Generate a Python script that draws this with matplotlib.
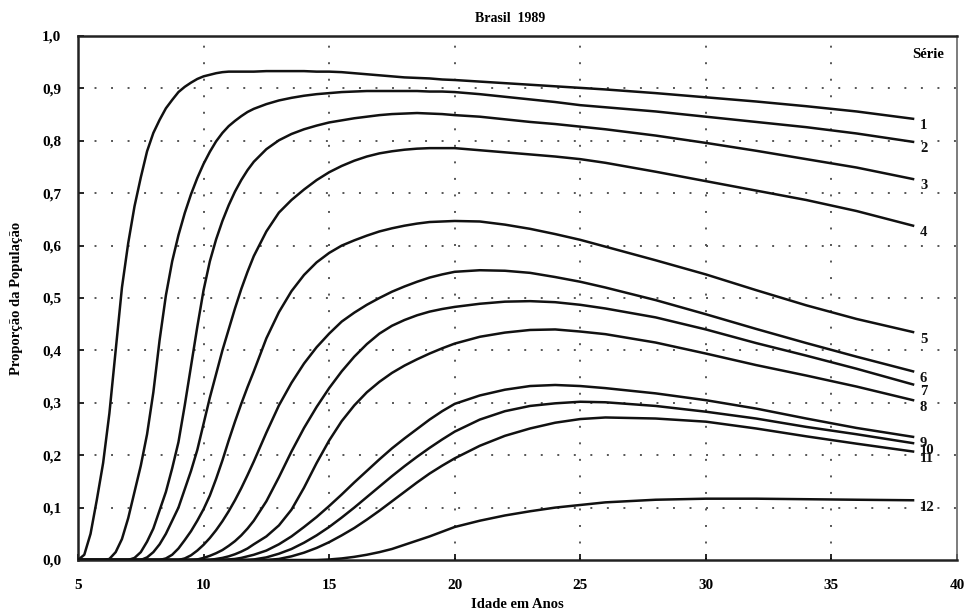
import numpy as np
import matplotlib
matplotlib.use("Agg")
import matplotlib.pyplot as plt
from matplotlib.ticker import FixedLocator, FuncFormatter

# Idade (anos) - grade comum a todas as series
idade = [5, 5.25, 5.5, 5.75, 6, 6.25, 6.5, 6.75, 7, 7.25, 7.5, 7.75, 8, 8.25, 8.5, 8.75,
         9, 9.25, 9.5, 9.75, 10, 10.25, 10.5, 10.75, 11, 11.25, 11.5, 11.75, 12,
         12.5, 13, 13.5, 14, 14.5, 15, 15.5, 16, 16.5, 17, 17.5, 18, 18.5, 19, 19.5, 20,
         21, 22, 23, 24, 25, 26, 28, 30, 32, 34, 36, 38.25]

# Proporcao da populacao por serie
serie1 = [0, 0.01, 0.05, 0.115, 0.185, 0.28, 0.40, 0.52, 0.605, 0.675, 0.73, 0.78, 0.815, 0.84, 0.862, 0.878,
          0.893, 0.903, 0.911, 0.918, 0.923, 0.926, 0.929, 0.931, 0.932, 0.932, 0.932, 0.932, 0.932,
          0.933, 0.933, 0.933, 0.933, 0.932, 0.932, 0.931, 0.929, 0.927, 0.925, 0.923, 0.921, 0.920, 0.919, 0.917, 0.916,
          0.913, 0.910, 0.907, 0.904, 0.901, 0.898, 0.891, 0.883, 0.875, 0.866, 0.856, 0.842]
serie2 = [0, 0, 0, 0, 0, 0.002, 0.015, 0.04, 0.08, 0.13, 0.18, 0.24, 0.32, 0.42, 0.505, 0.57,
          0.62, 0.662, 0.698, 0.729, 0.756, 0.779, 0.799, 0.815, 0.828, 0.838, 0.847, 0.855, 0.861,
          0.870, 0.877, 0.882, 0.886, 0.889, 0.891, 0.893, 0.894, 0.895, 0.895, 0.895, 0.895, 0.895, 0.894, 0.894, 0.893,
          0.889, 0.884, 0.879, 0.874, 0.868, 0.864, 0.856, 0.846, 0.836, 0.826, 0.814, 0.798]
serie3 = [0, 0, 0, 0, 0, 0, 0, 0, 0, 0.004, 0.015, 0.035, 0.06, 0.095, 0.13, 0.175,
          0.225, 0.295, 0.37, 0.445, 0.515, 0.57, 0.612, 0.647, 0.677, 0.703, 0.725, 0.744, 0.760,
          0.784, 0.801, 0.813, 0.822, 0.829, 0.835, 0.839, 0.843, 0.846, 0.849, 0.851, 0.852, 0.853, 0.852, 0.851, 0.849,
          0.846, 0.841, 0.836, 0.832, 0.827, 0.822, 0.810, 0.796, 0.781, 0.765, 0.749, 0.727]
serie4 = [0, 0, 0, 0, 0, 0, 0, 0, 0, 0, 0, 0.005, 0.015, 0.03, 0.05, 0.075,
          0.10, 0.135, 0.17, 0.21, 0.26, 0.31, 0.355, 0.40, 0.44, 0.48, 0.517, 0.55, 0.58,
          0.627, 0.663, 0.687, 0.707, 0.725, 0.740, 0.752, 0.762, 0.770, 0.776, 0.780, 0.783, 0.785, 0.786, 0.786, 0.786,
          0.782, 0.778, 0.774, 0.770, 0.765, 0.758, 0.741, 0.723, 0.705, 0.687, 0.666, 0.638]
serie5 = [0, 0, 0, 0, 0, 0, 0, 0, 0, 0, 0, 0, 0, 0, 0.003, 0.01,
          0.022, 0.038, 0.055, 0.075, 0.097, 0.123, 0.155, 0.19, 0.228, 0.264, 0.298, 0.33, 0.36,
          0.423, 0.473, 0.513, 0.544, 0.568, 0.586, 0.600, 0.610, 0.619, 0.627, 0.633, 0.638, 0.642, 0.645, 0.646, 0.647,
          0.646, 0.640, 0.632, 0.622, 0.611, 0.598, 0.572, 0.545, 0.515, 0.486, 0.460, 0.435]
serie6 = [0, 0, 0, 0, 0, 0, 0, 0, 0, 0, 0, 0, 0, 0, 0, 0,
          0, 0.003, 0.009, 0.018, 0.029, 0.042, 0.057, 0.074, 0.093, 0.114, 0.137, 0.162, 0.188,
          0.243, 0.295, 0.338, 0.375, 0.406, 0.432, 0.455, 0.472, 0.487, 0.500, 0.512, 0.522, 0.531, 0.539, 0.545, 0.550,
          0.553, 0.552, 0.548, 0.540, 0.531, 0.520, 0.496, 0.469, 0.441, 0.414, 0.388, 0.360]
serie7 = [0, 0, 0, 0, 0, 0, 0, 0, 0, 0, 0, 0, 0, 0, 0, 0,
          0, 0, 0, 0.001, 0.004, 0.008, 0.013, 0.019, 0.027, 0.036, 0.047, 0.060, 0.075,
          0.112, 0.158, 0.207, 0.252, 0.292, 0.328, 0.360, 0.388, 0.412, 0.432, 0.447, 0.458, 0.467, 0.474, 0.479, 0.483,
          0.489, 0.493, 0.494, 0.492, 0.487, 0.480, 0.463, 0.440, 0.414, 0.390, 0.365, 0.335]
serie8 = [0, 0, 0, 0, 0, 0, 0, 0, 0, 0, 0, 0, 0, 0, 0, 0,
          0, 0, 0, 0, 0, 0, 0.002, 0.004, 0.007, 0.011, 0.016, 0.022, 0.030,
          0.045, 0.066, 0.096, 0.138, 0.185, 0.228, 0.265, 0.295, 0.320, 0.340, 0.357, 0.371, 0.383, 0.394, 0.404, 0.413,
          0.426, 0.434, 0.439, 0.440, 0.436, 0.431, 0.415, 0.394, 0.372, 0.352, 0.331, 0.305]
serie9 = [0, 0, 0, 0, 0, 0, 0, 0, 0, 0, 0, 0, 0, 0, 0, 0,
          0, 0, 0, 0, 0, 0, 0, 0, 0.001, 0.002, 0.004, 0.007, 0.010,
          0.018, 0.030, 0.045, 0.063, 0.082, 0.103, 0.125, 0.148, 0.170, 0.192, 0.213, 0.232, 0.250, 0.268, 0.284, 0.298,
          0.314, 0.325, 0.332, 0.334, 0.332, 0.328, 0.318, 0.305, 0.289, 0.270, 0.252, 0.235]
serie10 = [0, 0, 0, 0, 0, 0, 0, 0, 0, 0, 0, 0, 0, 0, 0, 0,
           0, 0, 0, 0, 0, 0, 0, 0, 0, 0, 0, 0, 0.001,
           0.005, 0.012, 0.021, 0.033, 0.047, 0.063, 0.081, 0.100, 0.120, 0.140, 0.160, 0.179, 0.197, 0.214, 0.230, 0.245,
           0.268, 0.284, 0.294, 0.299, 0.302, 0.301, 0.294, 0.283, 0.270, 0.254, 0.240, 0.223]
serie11 = [0, 0, 0, 0, 0, 0, 0, 0, 0, 0, 0, 0, 0, 0, 0, 0,
           0, 0, 0, 0, 0, 0, 0, 0, 0, 0, 0, 0, 0,
           0, 0.002, 0.007, 0.014, 0.023, 0.034, 0.047, 0.061, 0.077, 0.094, 0.112, 0.130, 0.148, 0.165, 0.180, 0.194,
           0.218, 0.237, 0.251, 0.262, 0.269, 0.272, 0.270, 0.264, 0.251, 0.236, 0.222, 0.207]
serie12 = [0, 0, 0, 0, 0, 0, 0, 0, 0, 0, 0, 0, 0, 0, 0, 0,
           0, 0, 0, 0, 0, 0, 0, 0, 0, 0, 0, 0, 0,
           0, 0, 0, 0, 0, 0.001, 0.003, 0.006, 0.010, 0.015, 0.021, 0.029, 0.037, 0.045, 0.054, 0.063,
           0.075, 0.085, 0.093, 0.100, 0.105, 0.110, 0.115, 0.117, 0.117, 0.116, 0.115, 0.114]

series = [serie1, serie2, serie3, serie4, serie5, serie6,
          serie7, serie8, serie9, serie10, serie11, serie12]
rotulos = ["1", "2", "3", "4", "5", "6", "7", "8", "9", "10", "11", "12"]

xticks = [5, 10, 15, 20, 25, 30, 35, 40]
yticks = [0.0, 0.1, 0.2, 0.3, 0.4, 0.5, 0.6, 0.7, 0.8, 0.9, 1.0]

plt.rcParams['font.family'] = ['Liberation Serif', 'DejaVu Serif']
plt.rcParams['font.weight'] = 'bold'

fig = plt.figure(figsize=(9.67, 6.11), dpi=100)
ax = fig.add_axes([78 / 967, 51 / 611, 879 / 967, 524 / 611])

# grade pontilhada
for x in xticks[1:-1]:
    ax.axvline(x, color='#555555', lw=1.4, ls=(0, (1, 7.5)), zorder=1)
for y in yticks[1:-1]:
    ax.axhline(y, color='#555555', lw=1.4, ls=(0, (1, 7.5)), zorder=1)

# curvas
for s, r in zip(series, rotulos):
    ax.plot(idade, s, color='#111111', lw=1.8, zorder=3)
    ax.annotate(r, xy=(idade[-1], s[-1]), xytext=(5, -5), textcoords='offset points',
                ha='left', va='center', fontsize=10.5, fontweight='bold', color='#111111')

ax.text(0.985, 0.965, "Série", transform=ax.transAxes, ha='right', va='center',
        fontsize=10.5, fontweight='bold')

ax.set_xlim(5, 40)
ax.set_ylim(0, 1.0)
ax.xaxis.set_major_locator(FixedLocator(xticks))
ax.yaxis.set_major_locator(FixedLocator(yticks))
ax.yaxis.set_major_formatter(FuncFormatter(lambda v, p: ("%.1f" % v).replace(".", ",")))
ax.tick_params(direction='in', length=4, width=1.2, labelsize=11)
ax.tick_params(axis='x', pad=14)
ax.tick_params(axis='y', pad=12)
for lab in ax.get_xticklabels() + ax.get_yticklabels():
    lab.set_fontweight('bold')

for side in ['left', 'bottom', 'top']:
    ax.spines[side].set_linewidth(1.8)
    ax.spines[side].set_color('#222222')
ax.spines['right'].set_linewidth(1.2)
ax.spines['right'].set_color('#666666')

fig.text(510 / 967, 1 - 18 / 611, "Brasil  1989", ha='center', va='center',
         fontsize=10, fontweight='bold')
ax.set_xlabel("Idade em Anos", fontsize=10.5, fontweight='bold', labelpad=4)
ax.set_ylabel("Proporção da População", fontsize=10.5, fontweight='bold', labelpad=14)

fig.savefig("out.png", dpi=100)
